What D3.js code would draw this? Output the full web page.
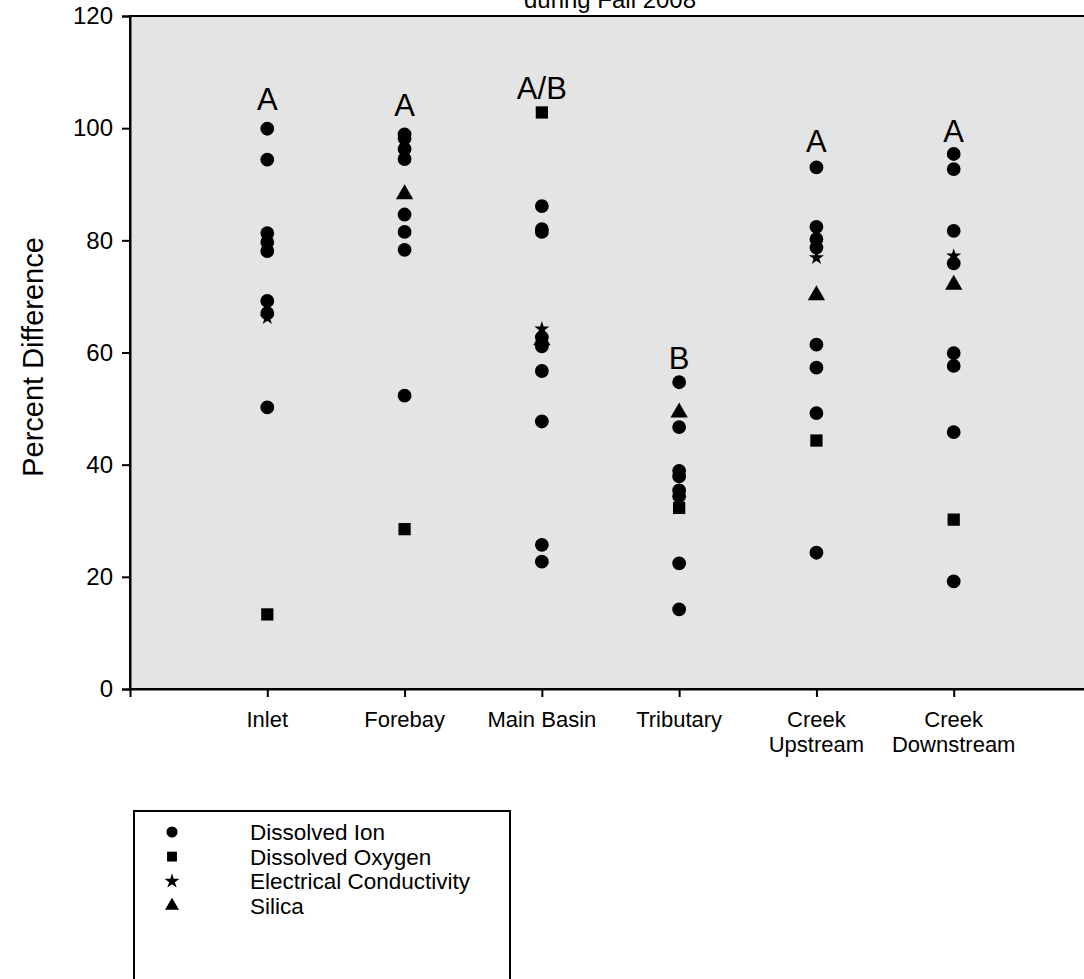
<!DOCTYPE html>
<html><head><meta charset="utf-8">
<script src="https://cdn.jsdelivr.net/npm/d3@7"></script>
<style>body{margin:0;background:#fff}svg{display:block}text{font-family:"Liberation Sans",Arial,sans-serif;fill:#000}</style>
</head><body><svg id="c" width="1084" height="979"></svg>
<script>
const categories = ["Inlet","Forebay","Main Basin","Tributary","Creek Upstream","Creek Downstream"];
const categoryLines = [["Inlet"],["Forebay"],["Main Basin"],["Tributary"],["Creek","Upstream"],["Creek","Downstream"]];
const dissolvedIon = [
  [99.9, 94.4, 81.3, 79.7, 78.1, 69.2, 67.0, 50.2],
  [98.9, 98.2, 96.3, 94.5, 84.6, 81.5, 78.3, 52.3],
  [86.1, 82.0, 81.5, 62.7, 61.1, 56.7, 47.7, 25.7, 22.7],
  [54.7, 46.7, 38.9, 37.9, 35.4, 34.4, 22.4, 14.2],
  [93.0, 82.4, 80.2, 78.7, 61.4, 57.3, 49.2, 24.3],
  [95.4, 92.7, 81.7, 75.9, 59.9, 57.6, 45.8, 19.2]
];
const dissolvedOxygen = [13.3, 28.5, 102.8, 32.3, 44.3, 30.2];
const electricalConductivity = [66.2, null, 64.2, 34.0, 76.9, 77.2];
const silica = [null, 88.2, 62.2, 49.3, 70.2, 72.1];
const groupLetters = ["A","A","A/B","B","A","A"];
const groupLetterValues = [103.3, 102.2, 105.2, 57.1, 95.8, 97.6];
const yTicks = [0,20,40,60,80,100,120];
const title = "during Fall 2008";
const yTitle = "Percent Difference";
const legendItems = [["circle","Dissolved Ion"],["square","Dissolved Oxygen"],["star","Electrical Conductivity"],["triangle","Silica"]];

const svg = d3.select("#c");
const x = d3.scaleLinear().domain([0,7]).range([130,1091]);
const y = d3.scaleLinear().domain([0,120]).range([689,16]);

svg.append("rect").attr("x",x(0)).attr("y",y(120)).attr("width",x(7)-x(0)).attr("height",y(0)-y(120))
  .attr("fill","#e4e4e4").attr("stroke","#000").attr("stroke-width",2);

svg.append("text").attr("x",610).attr("y",8).attr("text-anchor","middle").style("font-size","24px").text(title);

const yAxis = svg.append("g").attr("transform",`translate(${x(0)},0)`)
  .call(d3.axisLeft(y).tickValues(yTicks).tickSize(8).tickPadding(9));
yAxis.select(".domain").attr("stroke-width",2);
yAxis.selectAll(".tick line").attr("stroke-width",2);
yAxis.selectAll(".tick text").style("font-size","24px").style("font-family","Liberation Sans, Arial, sans-serif");

const xAxis = svg.append("g").attr("transform",`translate(0,${y(0)})`)
  .call(d3.axisBottom(x).tickValues(d3.range(1,7)).tickSize(8).tickFormat(""));
xAxis.select(".domain").attr("stroke-width",2);
xAxis.selectAll(".tick line").attr("stroke-width",2);
categoryLines.forEach((lines,i)=>{
  const t = svg.append("text").attr("x",x(i+1)).attr("y",727).attr("text-anchor","middle").style("font-size","22px");
  lines.forEach((l,j)=>t.append("tspan").attr("x",x(i+1)).attr("dy",j?25:0).text(l));
});

svg.append("text").attr("transform",`translate(43,357) rotate(-90)`).attr("text-anchor","middle")
  .style("font-size","29px").text(yTitle);

const symSize = {circle:150, square:150, star:70, triangle:130};
const symType = {circle:d3.symbolCircle, square:d3.symbolSquare, star:d3.symbolStar, triangle:d3.symbolTriangle};
function sym(shape, scale=1){ return d3.symbol().type(symType[shape]).size(symSize[shape]*scale)(); }

const plot = svg.append("g");
function drawSeries(points, shape){
  plot.selectAll(null).data(points.filter(p=>p.v!=null)).enter().append("path")
    .attr("d", sym(shape))
    .attr("transform", p=>`translate(${x(p.i+1)},${y(p.v)})`)
    .attr("fill","#000");
}
drawSeries(silica.map((v,i)=>({i,v})), "triangle");
drawSeries(electricalConductivity.map((v,i)=>({i,v})), "star");
drawSeries(dissolvedOxygen.map((v,i)=>({i,v})), "square");
drawSeries(dissolvedIon.flatMap((arr,i)=>arr.map(v=>({i,v}))), "circle");

groupLetters.forEach((g,i)=>{
  svg.append("text").attr("x",x(i+1)).attr("y",y(groupLetterValues[i])).attr("text-anchor","middle")
    .style("font-size","31px").text(g);
});

const lg = svg.append("g");
lg.append("rect").attr("x",134).attr("y",811).attr("width",376).attr("height",190)
  .attr("fill","#fff").attr("stroke","#000").attr("stroke-width",2);
legendItems.forEach(([shape,label],k)=>{
  const cy = 832 + k*24.6;
  lg.append("path").attr("d",sym(shape, shape==="star"?1:0.65)).attr("transform",`translate(172,${cy})`).attr("fill","#000");
  lg.append("text").attr("x",250).attr("y",cy+8).style("font-size","22.5px").text(label);
});
</script></body></html>
